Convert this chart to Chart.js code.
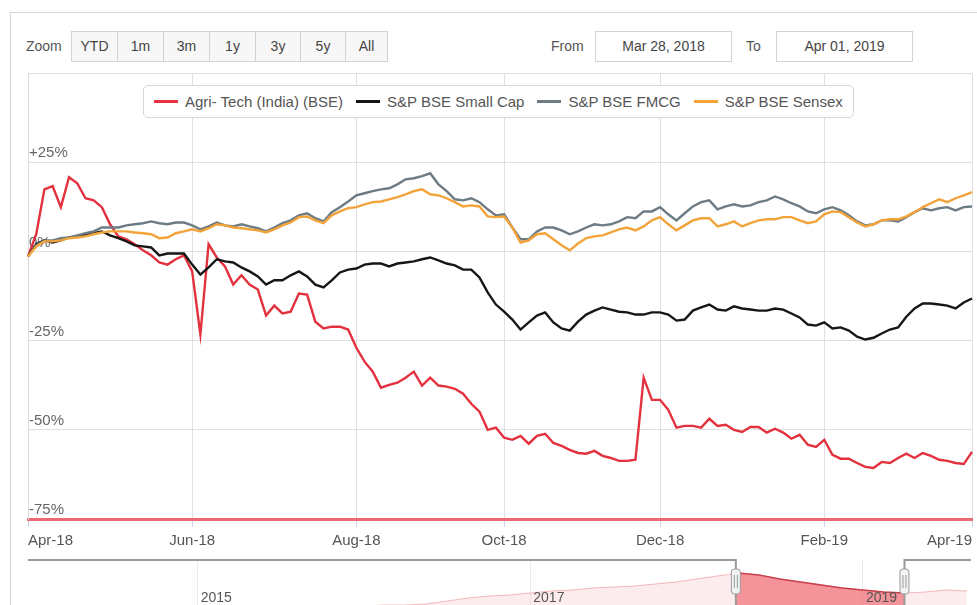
<!DOCTYPE html>
<html>
<head>
<meta charset="utf-8">
<script src="https://cdn.jsdelivr.net/npm/chart.js@4.4.1/dist/chart.umd.min.js"></script>
<style>
html,body{margin:0;padding:0;width:977px;height:605px;overflow:hidden;background:#fff;font-family:"Liberation Sans",Arial,sans-serif;}
#frame{position:absolute;left:10px;top:12px;width:1000px;height:700px;border:1px solid #d6d6d6;box-sizing:border-box;}
#mainWrap{position:absolute;left:0;top:0;width:977px;height:560px;}
#navWrap{position:absolute;left:0;top:550px;width:977px;height:70px;}
.zlabel{position:absolute;left:26px;top:38px;font-size:14px;color:#555;}
.btn{position:absolute;top:31px;height:31px;line-height:29px;text-align:center;font-size:14px;color:#444;background:#f7f7f7;border:1px solid #d3d3d3;box-sizing:border-box;}
.lbl{position:absolute;top:38px;font-size:14px;color:#555;}
.datebox{position:absolute;top:31px;height:31px;line-height:29px;text-align:center;font-size:14px;color:#444;background:#fff;border:1px solid #d3d3d3;box-sizing:border-box;}
#legend{position:absolute;left:143px;top:85px;width:711px;height:33px;background:#fff;border:1px solid #d6d6d6;border-radius:5px;box-sizing:border-box;display:flex;align-items:center;padding-left:10px;z-index:3;}
.item{display:flex;align-items:center;margin-right:13px;font-size:15px;color:#555;white-space:nowrap;}
.sym{width:24px;height:3px;margin-right:7px;}
</style>
</head>
<body>
<div id="frame"></div>
<div class="zlabel">Zoom</div>
<div class="btn" style="left:71px;width:47px;">YTD</div>
<div class="btn" style="left:117px;width:47px;">1m</div>
<div class="btn" style="left:163px;width:47px;">3m</div>
<div class="btn" style="left:209px;width:47px;">1y</div>
<div class="btn" style="left:255px;width:46px;">3y</div>
<div class="btn" style="left:300px;width:46px;">5y</div>
<div class="btn" style="left:345px;width:43px;">All</div>
<div class="lbl" style="left:551px;">From</div>
<div class="datebox" style="left:595px;width:137px;">Mar 28, 2018</div>
<div class="lbl" style="left:746px;">To</div>
<div class="datebox" style="left:776px;width:137px;">Apr 01, 2019</div>
<div id="legend"></div>
<div id="mainWrap"><canvas id="main"></canvas></div>
<div id="navWrap"><canvas id="nav"></canvas></div>
<script>
// ---- data (percent change since Mar 28, 2018) ----
const tickIndex = [0, 20, 40, 58, 77, 97, 115];
const tickText = ['Apr-18', 'Jun-18', 'Aug-18', 'Oct-18', 'Dec-18', 'Feb-19', 'Apr-19'];
const seriesNames = ['Agri- Tech (India) (BSE)', 'S&P BSE Small Cap', 'S&P BSE FMCG', 'S&P BSE Sensex'];
const seriesColors = ['#e3313e', '#161616', '#6c7b84', '#f2a43a'];

const agriTech = [-1.4, 4.8, 17.4, 18.3, 12.4, 20.8, 19.1, 14.9, 14.3, 12.4,
  7.6, 4.2, 3.4, 2.0, 0.3, -1.1, -3.1, -3.7, -2.2, -1.1,
  -5.6, -23.3, 2.0, -1.7, -4.2, -9.3, -6.7, -9.3, -10.7, -18.0,
  -15.2, -17.4, -16.9, -11.8, -12.1, -19.7, -21.6, -21.1, -21.1, -21.9,
  -27.0, -30.9, -33.7, -38.2, -37.4, -36.8, -35.4, -33.7, -37.6, -35.4,
  -37.6, -37.9, -38.5, -39.9, -42.7, -44.9, -50.0, -49.4, -52.2, -52.8,
  -51.7, -53.9, -51.7, -51.1, -53.7, -54.5, -55.6, -56.5, -56.7, -55.9,
  -57.3, -57.9, -58.7, -58.7, -58.4, -35.4, -41.6, -41.6, -44.4, -49.4,
  -48.9, -48.9, -49.4, -46.9, -48.9, -48.6, -50.0, -50.6, -49.2, -49.2,
  -50.8, -49.7, -50.8, -52.5, -51.4, -54.2, -54.8, -52.8, -57.0, -58.1,
  -58.1, -59.3, -60.4, -60.7, -59.0, -59.3, -57.9, -56.7, -57.9, -56.5,
  -57.3, -58.4, -58.7, -59.3, -59.6, -56.2];

const smallCap = [-1.4, 2.0, 3.1, 2.5, 3.1, 3.9, 4.2, 4.8, 5.1, 5.6,
  4.5, 3.7, 2.8, 1.7, 1.4, 1.1, -1.1, -0.6, -0.6, -0.6,
  -3.7, -6.5, -4.5, -2.2, -2.8, -3.1, -4.5, -5.6, -7.0, -9.3,
  -8.1, -8.1, -6.7, -5.6, -7.0, -9.3, -10.1, -8.1, -5.9, -5.1,
  -4.8, -3.7, -3.4, -3.4, -4.2, -3.4, -3.1, -2.8, -2.2, -1.7,
  -2.5, -3.4, -3.9, -5.1, -5.1, -7.3, -11.5, -14.9, -16.9, -19.1,
  -21.9, -19.9, -18.0, -17.1, -19.9, -21.6, -22.2, -19.7, -17.7, -16.6,
  -15.7, -16.3, -16.9, -17.1, -17.7, -17.7, -17.1, -17.1, -17.7, -19.4,
  -19.1, -16.6, -15.7, -14.9, -16.3, -16.6, -15.4, -16.0, -16.3, -16.6,
  -16.6, -16.0, -16.3, -17.4, -18.5, -20.5, -20.8, -19.9, -21.6, -21.3,
  -22.2, -23.9, -24.7, -24.2, -23.0, -21.9, -21.3, -18.3, -16.0, -14.6,
  -14.6, -14.9, -15.2, -16.0, -14.3, -13.2];

const fmcg = [-1.4, 1.7, 3.1, 3.1, 3.7, 3.9, 4.5, 5.1, 5.6, 6.7,
  6.7, 6.7, 7.3, 7.6, 7.9, 8.4, 7.9, 7.6, 8.1, 8.1,
  7.3, 6.2, 7.0, 8.1, 7.3, 7.0, 7.6, 7.0, 6.5, 5.6,
  6.7, 7.9, 8.7, 10.1, 10.7, 9.3, 8.4, 11.0, 12.4, 14.0,
  15.7, 16.3, 16.9, 17.4, 17.7, 18.8, 20.2, 20.5, 21.1, 21.9,
  18.8, 16.9, 14.6, 14.3, 14.9, 13.8, 11.8, 10.1, 10.4, 6.7,
  3.4, 3.4, 5.6, 6.7, 6.7, 5.9, 4.8, 5.6, 6.7, 7.6,
  7.3, 7.6, 8.4, 9.6, 9.3, 11.2, 11.2, 12.4, 10.4, 8.7,
  10.7, 12.6, 13.8, 14.3, 11.8, 12.6, 13.2, 12.6, 12.9, 13.8,
  14.3, 15.4, 14.6, 13.5, 12.6, 11.2, 10.7, 11.8, 12.4, 11.5,
  10.1, 8.4, 7.3, 7.6, 8.7, 8.7, 8.4, 9.6, 11.0, 12.1,
  11.5, 12.1, 12.4, 11.5, 12.4, 12.6];

const sensex = [-1.4, 1.4, 2.8, 2.8, 3.1, 3.7, 3.9, 4.2, 4.8, 5.3,
  5.6, 5.6, 5.6, 5.3, 5.1, 4.8, 3.7, 3.9, 5.1, 5.6,
  6.2, 5.6, 6.5, 7.6, 7.3, 6.7, 6.5, 6.2, 5.9, 5.3,
  6.2, 7.3, 8.1, 9.6, 9.8, 8.7, 7.9, 10.1, 11.2, 12.1,
  12.4, 13.2, 13.8, 14.0, 14.6, 15.2, 16.0, 16.9, 17.4, 16.0,
  15.7, 14.9, 13.8, 12.6, 12.9, 12.6, 9.8, 9.6, 9.8, 6.7,
  2.5, 3.1, 4.8, 5.1, 3.4, 1.7, 0.3, 2.2, 3.7, 4.2,
  4.5, 5.3, 6.2, 6.7, 5.9, 7.0, 8.7, 9.6, 7.6, 5.9,
  7.3, 8.7, 9.3, 9.3, 7.0, 7.6, 8.4, 7.0, 7.9, 8.7,
  9.0, 9.0, 9.6, 9.6, 8.7, 7.9, 8.4, 10.4, 11.2, 11.0,
  9.6, 8.1, 7.0, 7.6, 8.7, 9.0, 9.0, 9.8, 11.0, 12.4,
  13.5, 14.6, 13.8, 14.9, 15.7, 16.6];

// navigator (long history of Agri-Tech, relative units)
const navYears = [2014.000, 2014.125, 2014.250, 2014.375, 2014.500, 2014.625, 2014.750, 2014.875,
  2015.000, 2015.125, 2015.250, 2015.375, 2015.500, 2015.625, 2015.750, 2015.875,
  2016.000, 2016.125, 2016.250, 2016.375, 2016.500, 2016.625, 2016.750, 2016.875,
  2017.000, 2017.125, 2017.250, 2017.375, 2017.500, 2017.625, 2017.750, 2017.875,
  2018.000, 2018.125, 2018.250, 2018.375, 2018.500, 2018.625, 2018.750, 2018.875,
  2019.000, 2019.125, 2019.250, 2019.375, 2019.500, 2019.625];
const navValues = [2, 2, 3, 2, 3, 3, 2, 3,
  3, 3, 3, 3, 3, 4, 4, 4,
  4, 5, 5, 6, 9, 12, 14, 15,
  17, 19, 20, 22, 23, 24, 26, 28,
  31, 34, 37, 35, 31, 28, 25, 22,
  20, 18, 17, 18, 20, 19];
const navTickYears = [2015, 2017, 2019];
const navFrom = 2018.236, navTo = 2019.25;

// ---- legend ----
const leg = document.getElementById('legend');
seriesNames.forEach((n, i) => {
  const it = document.createElement('div'); it.className = 'item';
  const s = document.createElement('span'); s.className = 'sym'; s.style.background = seriesColors[i];
  const t = document.createElement('span'); t.textContent = n;
  it.appendChild(s); it.appendChild(t); leg.appendChild(it);
});

Chart.defaults.font.family = '"Liberation Sans", Arial, sans-serif';

const labels = agriTech.map((_, i) => { const k = tickIndex.indexOf(i); return k >= 0 ? tickText[k] : ''; });
const seriesData = [agriTech, smallCap, fmcg, sensex];

new Chart(document.getElementById('main'), {
  type: 'line',
  data: {
    labels: labels,
    datasets: seriesData.map((d, i) => ({
      label: seriesNames[i], data: d, borderColor: seriesColors[i], backgroundColor: seriesColors[i],
      borderWidth: 2.4, pointRadius: 0, tension: 0, order: 3 - i
    }))
  },
  options: {
    responsive: true, maintainAspectRatio: false, animation: false, events: [],
    layout: { padding: { left: 28, right: 5, top: 73, bottom: 5 } },
    plugins: { legend: { display: false }, tooltip: { enabled: false } },
    scales: {
      x: {
        type: 'category', offset: false,
        grid: {
          color: c => (c.tick && c.tick.label) ? '#e0e0e0' : 'rgba(0,0,0,0)',
          tickColor: c => (c.tick && c.tick.label) ? '#ccd6eb' : 'rgba(0,0,0,0)',
          tickLength: 8
        },
        border: { display: true, color: '#ec6872', width: 3 },
        ticks: { autoSkip: false, maxRotation: 0, minRotation: 0, align: 'inner', padding: 5, color: '#555', font: { size: 15 } },
        afterFit: s => { s.height = 36; }
      },
      y: {
        min: -75, max: 50,
        ticks: {
          stepSize: 25, mirror: true, padding: 1, labelOffset: -9, color: '#666', font: { size: 15 },
          callback: v => v >= 50 ? '' : (v > 0 ? '+' + v + '%' : v + '%')
        },
        grid: { color: '#e0e0e0', drawTicks: false },
        border: { display: true, color: '#d9d9d9' },
        afterFit: s => { s.width = 0; }
      }
    }
  }
});

const navPlugin = {
  id: 'navSel',
  afterDatasetsDraw(chart) {
    const { ctx, chartArea: a, scales: { x } } = chart;
    const fx = x.getPixelForValue(navFrom), tx = x.getPixelForValue(navTo);
    const pts = chart.getDatasetMeta(0).data;
    ctx.save();
    ctx.beginPath(); ctx.rect(fx, a.top - 2, tx - fx, a.bottom - a.top + 4); ctx.clip();
    ctx.beginPath(); ctx.moveTo(pts[0].x, pts[0].y);
    pts.forEach(p => ctx.lineTo(p.x, p.y));
    ctx.lineTo(pts[pts.length - 1].x, a.bottom); ctx.lineTo(pts[0].x, a.bottom); ctx.closePath();
    ctx.fillStyle = 'rgba(240,112,120,0.72)'; ctx.fill();
    ctx.beginPath(); ctx.moveTo(pts[0].x, pts[0].y);
    pts.forEach(p => ctx.lineTo(p.x, p.y));
    ctx.strokeStyle = '#c8404b'; ctx.lineWidth = 1.5; ctx.stroke();
    ctx.restore();

    ctx.save();
    ctx.font = '14px "Liberation Sans", Arial, sans-serif';
    ctx.fillStyle = '#555'; ctx.textBaseline = 'middle'; ctx.textAlign = 'left';
    navTickYears.forEach(v => ctx.fillText(String(v), x.getPixelForValue(v) + 3, a.bottom - 12));

    ctx.strokeStyle = '#9a9a9a'; ctx.lineWidth = 2;
    ctx.beginPath();
    ctx.moveTo(a.left, a.top); ctx.lineTo(fx, a.top); ctx.lineTo(fx, a.bottom + 5);
    ctx.lineTo(tx, a.bottom + 5); ctx.lineTo(tx, a.top); ctx.lineTo(a.right, a.top);
    ctx.stroke();

    [fx, tx].forEach(hx => {
      ctx.beginPath();
      ctx.roundRect(hx - 4.5, a.top + 9, 9, 25, 3);
      ctx.fillStyle = '#f2f2f2'; ctx.fill();
      ctx.lineWidth = 1; ctx.strokeStyle = '#999'; ctx.stroke();
      ctx.beginPath();
      ctx.moveTo(hx - 1.5, a.top + 15); ctx.lineTo(hx - 1.5, a.top + 28);
      ctx.moveTo(hx + 1.5, a.top + 15); ctx.lineTo(hx + 1.5, a.top + 28);
      ctx.stroke();
    });
    ctx.restore();
  }
};

new Chart(document.getElementById('nav'), {
  type: 'line',
  data: {
    datasets: [{
      data: navYears.map((yr, i) => ({ x: yr, y: navValues[i] })),
      borderColor: 'rgba(226,90,100,0.4)', borderWidth: 1,
      backgroundColor: 'rgba(236,100,110,0.12)', fill: 'origin', pointRadius: 0, tension: 0
    }]
  },
  options: {
    responsive: true, maintainAspectRatio: false, animation: false, events: [],
    layout: { padding: { left: 28, right: 6, top: 10, bottom: 10 } },
    plugins: { legend: { display: false }, tooltip: { enabled: false } },
    scales: {
      x: {
        type: 'linear', min: 2013.98, max: 2019.65,
        afterBuildTicks: s => { s.ticks = navTickYears.map(v => ({ value: v })); },
        grid: { color: '#ececec', drawTicks: false },
        border: { display: false },
        ticks: { display: false },
        afterFit: s => { s.height = 0; }
      },
      y: { display: false, min: 0, max: 50 }
    }
  }
  ,
  plugins: [navPlugin]
});
</script>
</body>
</html>
